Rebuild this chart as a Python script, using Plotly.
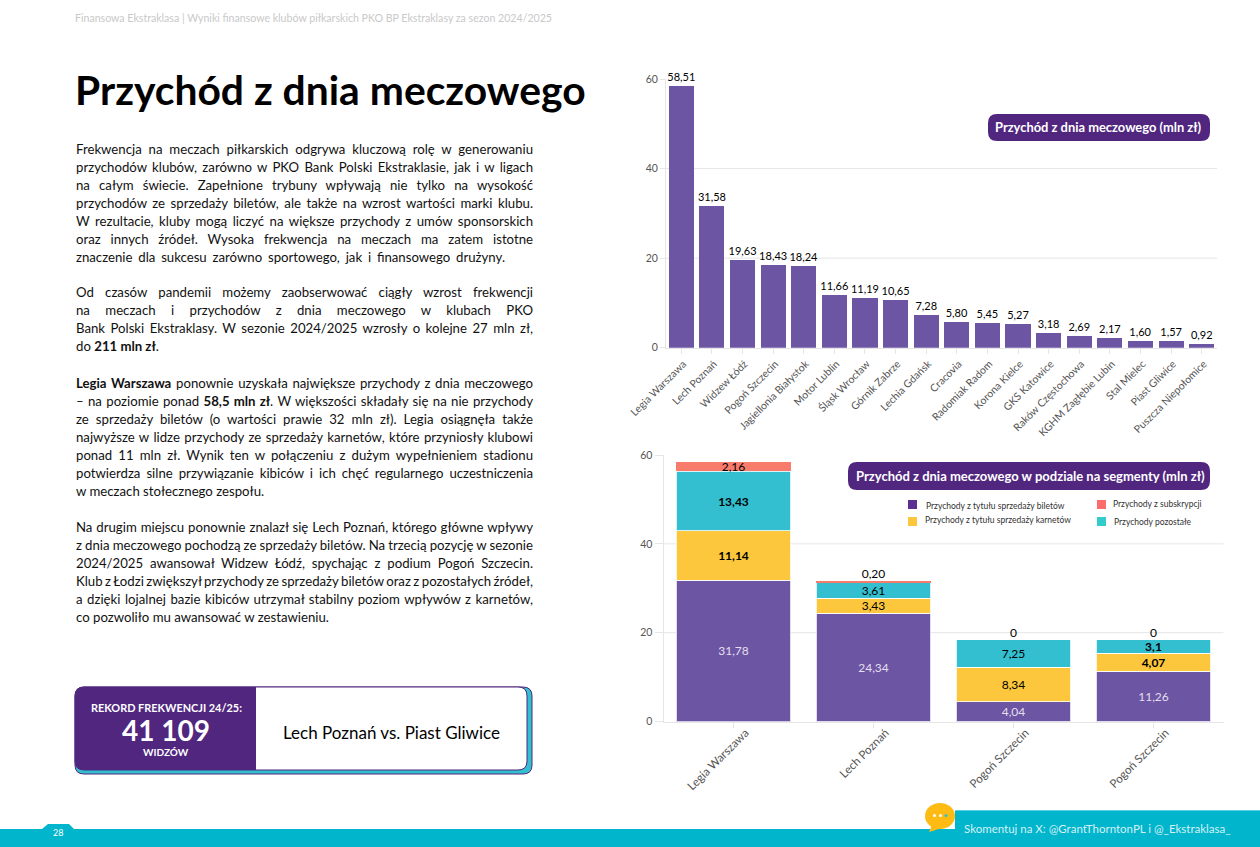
import json
import plotly.graph_objects as go

W, H = 1260, 847
FONT = "Lato"

clubs = ["Legia Warszawa", "Lech Poznań", "Widzew Łódź", "Pogoń Szczecin", "Jagiellonia Białystok",
         "Motor Lublin", "Śląsk Wrocław", "Górnik Zabrze", "Lechia Gdańsk", "Cracovia", "Radomiak Radom",
         "Korona Kielce", "GKS Katowice", "Raków Częstochowa", "KGHM Zagłębie Lubin", "Stal Mielec",
         "Piast Gliwice", "Puszcza Niepołomice"]
revenue = [58.51, 31.58, 19.63, 18.43, 18.24, 11.66, 11.19, 10.65, 7.28, 5.80, 5.45, 5.27, 3.18, 2.69, 2.17,
           1.60, 1.57, 0.92]

seg_clubs = ["Legia Warszawa", "Lech Poznań", "Pogoń Szczecin", "Pogoń Szczecin"]
seg_pos = [0, 1, 2, 3]
tickets = [31.78, 24.34, 4.4, 11.26]
tickets_lbl = ["31,78", "24,34", "4,04", "11,26"]
season = [11.14, 3.43, 7.8, 4.07]
season_lbl = ["<b>11,14</b>", "3,43", "8,34", "<b>4,07</b>"]
other = [13.43, 3.61, 6.2, 3.1]
other_lbl = ["<b>13,43</b>", "3,61", "7,25", "<b>3,1</b>"]
subs = [2.16, 0.20, 0, 0]
subs_lbl = ["2,16", "", "", ""]
top_lbl = ["", "0,20", "0", "0"]

PURPLE = "#6C55A2"
DEEP = "#50267F"
TEAL = "#33BFCF"
YELLOW = "#FCC73D"
SALMON = "#F87B6C"
BAND = "#00B5CC"
GRID = "#E6E6E6"


def fx(x):
    return x / W


def fy(y):
    return 1 - y / H


def rrect(x0, y0, x1, y1, rl, rr=None):
    rr = rl if rr is None else rr
    return (f"M{fx(x0 + rl)},{fy(y0)} L{fx(x1 - rr)},{fy(y0)} Q{fx(x1)},{fy(y0)} {fx(x1)},{fy(y0 + rr)} "
            f"L{fx(x1)},{fy(y1 - rr)} Q{fx(x1)},{fy(y1)} {fx(x1 - rr)},{fy(y1)} L{fx(x0 + rl)},{fy(y1)} "
            f"Q{fx(x0)},{fy(y1)} {fx(x0)},{fy(y1 - rl)} L{fx(x0)},{fy(y0 + rl)} Q{fx(x0)},{fy(y0)} {fx(x0 + rl)},{fy(y0)} Z")


shapes = []


def path(d, fill, line=None, lw=0, layer="above"):
    shapes.append(dict(type="path", path=d, xref="paper", yref="paper", fillcolor=fill, layer=layer,
                       line=dict(color=line or fill, width=lw)))


def box(x0, y0, x1, y1, fill, layer="above"):
    shapes.append(dict(type="rect", x0=fx(x0), x1=fx(x1), y0=fy(y0), y1=fy(y1), xref="paper", yref="paper",
                       fillcolor=fill, line=dict(width=0), layer=layer))


def oval(x0, y0, x1, y1, fill):
    shapes.append(dict(type="circle", x0=fx(x0), x1=fx(x1), y0=fy(y0), y1=fy(y1), xref="paper", yref="paper",
                       fillcolor=fill, line=dict(width=0), layer="above"))


annotations = []


def label(x, y, text, size, color="#000000", anchor="left", font=FONT):
    annotations.append(dict(x=fx(x), y=fy(y), xref="paper", yref="paper", text=text, showarrow=False,
                            xanchor=anchor, yanchor="middle", align=anchor, borderpad=0,
                            font=dict(family=font, size=size, color=color)))
    return len(annotations) - 1


label(74, 18, "Finansowa Ekstraklasa | Wyniki finansowe klubów piłkarskich PKO BP Ekstraklasy za sezon 2024/2025",
      10.6, "#C9C9C9")
label(74, 89, "<b>Przychód z dnia meczowego</b>", 40.8)

FULL = 457
body = [
    (149, "Frekwencja na meczach piłkarskich odgrywa kluczową rolę w generowaniu", FULL),
    (167, "przychodów klubów, zarówno w PKO Bank Polski Ekstraklasie, jak i w ligach", FULL),
    (185, "na całym świecie. Zapełnione trybuny wpływają nie tylko na wysokość", FULL),
    (203, "przychodów ze sprzedaży biletów, ale także na wzrost wartości marki klubu.", FULL),
    (221, "W rezultacie, kluby mogą liczyć na większe przychody z umów sponsorskich", FULL),
    (239, "oraz innych źródeł. Wysoka frekwencja na meczach ma zatem istotne", FULL),
    (257, "znaczenie dla sukcesu zarówno sportowego, jak i finansowego drużyny.", 429),
    (292, "Od czasów pandemii możemy zaobserwować ciągły wzrost frekwencji", FULL),
    (310, "na meczach i przychodów z dnia meczowego w klubach PKO", FULL),
    (328, "Bank Polski Ekstraklasy. W sezonie 2024/2025 wzrosły o kolejne 27 mln zł,", FULL),
    (346, "do <b>211 mln zł</b>.", None),
    (383, "<b>Legia Warszawa</b> ponownie uzyskała największe przychody z dnia meczowego", FULL),
    (401, "– na poziomie ponad <b>58,5 mln zł</b>. W większości składały się na nie przychody", FULL),
    (419, "ze sprzedaży biletów (o wartości prawie 32 mln zł). Legia osiągnęła także", FULL),
    (437, "najwyższe w lidze przychody ze sprzedaży karnetów, które przyniosły klubowi", FULL),
    (455, "ponad 11 mln zł. Wynik ten w połączeniu z dużym wypełnieniem stadionu", FULL),
    (473, "potwierdza silne przywiązanie kibiców i ich chęć regularnego uczestniczenia", FULL),
    (491, "w meczach stołecznego zespołu.", None),
    (527, "Na drugim miejscu ponownie znalazł się Lech Poznań, którego główne wpływy", FULL),
    (545, "z dnia meczowego pochodzą ze sprzedaży biletów. Na trzecią pozycję w sezonie", FULL),
    (563, "2024/2025 awansował Widzew Łódź, spychając z podium Pogoń Szczecin.", FULL),
    (581, "Klub z Łodzi zwiększył przychody ze sprzedaży biletów oraz z pozostałych źródeł,", FULL),
    (599, "a dzięki lojalnej bazie kibiców utrzymał stabilny poziom wpływów z karnetów,", FULL),
    (617, "co pozwoliło mu awansować w zestawieniu.", None),
]
just = {}
for y, t, w in body:
    i = label(75, y, t, 13.2, "#111111")
    if w:
        just[i] = w

# record box
path(rrect(75, 687, 532, 774, 9), TEAL, DEEP, 1)
path(rrect(75, 687, 527, 770, 9), "#FFFFFF", DEEP, 1)
path(rrect(75, 687, 256, 770, 9, 0), DEEP)
label(166, 707, "<b>REKORD FREKWENCJI 24/25:</b>", 10.9, "#FFFFFF", "center")
label(166, 730, "<b>41 109</b>", 28, "#FFFFFF", "center")
label(166, 752, "<b>WIDZÓW</b>", 10, "#FFFFFF", "center")
label(391, 732, "Lech Poznań vs. Piast Gliwice", 17, "#000000", "center")

# footer
box(0, 829, W, H, BAND)
path(f"M{fx(42)},{fy(829)} L{fx(48)},{fy(824)} L{fx(69)},{fy(824)} L{fx(74)},{fy(829)} Z", BAND)
box(955, 810, W, H, BAND)
box(955, 810, W, 811, "#5CD0DF")
label(58, 832, "28", 9, "#FFFFFF", "center")
label(963, 828, "Skomentuj na X: @GrantThorntonPL i @_Ekstraklasa_", 11.5, "#D5F1F5")
oval(925, 803, 955, 829, "#FDBB14")
path(f"M{fx(932)},{fy(825)} L{fx(929)},{fy(832)} L{fx(942)},{fy(828)} Z", "#FDBB14")
for cx, c in ((934.5, "#FFFFFF"), (940.5, "#FFFFFF"), (946, "#33BFCF")):
    oval(cx - 1.5, 814, cx + 1.5, 817, c)

# pills
path(rrect(988, 114, 1210, 141, 9), DEEP)
label(1098, 127.5, "<b>Przychód z dnia meczowego (mln zł)</b>", 12.9, "#FFFFFF", "center")
path(rrect(848, 462, 1210, 490, 9), DEEP)
label(1030, 476.5, "<b>Przychód z dnia meczowego w podziale na segmenty (mln zł)</b>", 13, "#FFFFFF", "center")

# legend
legend_rows = [
    (908, 500, "#5B2E91", 925, 506, "Przychody z tytułu sprzedaży biletów"),
    (908, 517, YELLOW, 924, 520, "Przychody z tytułu sprzedaży karnetów"),
    (1097, 500, "#FF6B6B", 1112, 504, "Przychody z subskrypcji"),
    (1097, 517, "#33CCCC", 1113, 522, "Przychody pozostałe"),
]
for sx, sy, col, tx, ty, txt in legend_rows:
    box(sx, sy, sx + 9, sy + 9, col)
    label(tx, ty, txt, 8.5, "#333333")

fig = go.Figure()
fig.add_trace(go.Bar(x=clubs, y=revenue, marker=dict(color=PURPLE, line=dict(width=0)),
                     text=[f"{v:.2f}".replace(".", ",") for v in revenue], textposition="outside",
                     constraintext="none", textangle=0,
                     textfont=dict(family=FONT, size=11, color="#000000"), cliponaxis=False,
                     name="Przychód z dnia meczowego", xaxis="x", yaxis="y", showlegend=False))

seg_series = [
    ("Przychody z tytułu sprzedaży biletów", tickets, tickets_lbl, PURPLE, "#E4DFF0", 0.8),
    ("Przychody z tytułu sprzedaży karnetów", season, season_lbl, YELLOW, "#000000", 0.8),
    ("Przychody pozostałe", other, other_lbl, TEAL, "#000000", 0.8),
    ("Przychody z subskrypcji", subs, subs_lbl, SALMON, "#000000", 0),
]
for name, vals, lbls, col, tcol, lw in seg_series:
    fig.add_trace(go.Bar(x=seg_pos, y=vals, name=name, text=lbls, textposition="inside", insidetextanchor="middle",
                         constraintext="none", textangle=0,
                         marker=dict(color=col, line=dict(color="#FFFFFF", width=lw)),
                         textfont=dict(family=FONT, size=12, color=tcol), xaxis="x2", yaxis="y2", showlegend=False))
totals = [a + b + c + d for a, b, c, d in zip(tickets, season, other, subs)]
fig.add_trace(go.Scatter(x=seg_pos, y=totals, text=top_lbl, mode="text", textposition="top center",
                         textfont=dict(family=FONT, size=12, color="#000000"), cliponaxis=False,
                         xaxis="x2", yaxis="y2", showlegend=False, hoverinfo="skip"))

for ax in ("x domain", "x2 domain"):
    yr = "y" if ax == "x domain" else "y2"
    for v in (20, 40):
        shapes.append(dict(type="line", xref=ax, yref=yr, x0=0, x1=1, y0=v, y1=v, layer="below",
                           line=dict(color=GRID, width=1)))

tickfont = dict(family=FONT, size=10.5, color="#555555")
common_y = dict(range=[0, 60], tickvals=[0, 20, 40, 60], showgrid=False, zeroline=False, showline=True,
                linecolor=GRID, ticks="outside", tickcolor=GRID, tickfont=tickfont)
common_x = dict(showgrid=False, zeroline=False, showline=True, linecolor=GRID, ticks="outside", ticklen=5,
                tickcolor=GRID, tickangle=-45)

fig.update_layout(
    width=W, height=H, margin=dict(l=0, r=0, t=0, b=0, pad=0, autoexpand=False), paper_bgcolor="#FFFFFF",
    plot_bgcolor="rgba(0,0,0,0)",
    barmode="stack", bargap=0.18, showlegend=False, shapes=shapes, annotations=annotations,
    font=dict(family=FONT),
    xaxis=dict(domain=[fx(666), fx(1217)], anchor="y", categoryorder="array", categoryarray=clubs,
               tickfont=tickfont, ticklabelshift=2, **common_x),
    yaxis={**common_y, "domain": [fy(347.7), fy(79)], "anchor": "x", "ticklen": 5},
    xaxis2=dict(domain=[fx(663.5), fx(1223.5)], anchor="y2", range=[-0.5, 3.5], tickvals=seg_pos, ticktext=seg_clubs,
                tickfont=dict(family=FONT, size=11.6, color="#555555"), ticklabelshift=12, ticklabelstandoff=-6,
                **common_x),
    yaxis2={**common_y, "domain": [fy(721.5), fy(455)], "anchor": "x2", "ticklen": 8},
)

post = """
document.body.style.margin='0';
document.documentElement.style.overflow='hidden';
(function(){
  var gd=document.getElementById('{plot_id}');
  var targets=%s;
  gd.querySelectorAll('.annotation').forEach(function(g){
    var w=targets[g.getAttribute('data-index')];
    if(!w) return;
    var t=g.querySelector('.annotation-text');
    var n=t.textContent.split(' ').length-1;
    t.style.wordSpacing=((w-t.getComputedTextLength())/n)+'px';
  });
})();
""" % json.dumps(just)

fig.write_html("out.html", post_script=post, config=dict(displayModeBar=False))
